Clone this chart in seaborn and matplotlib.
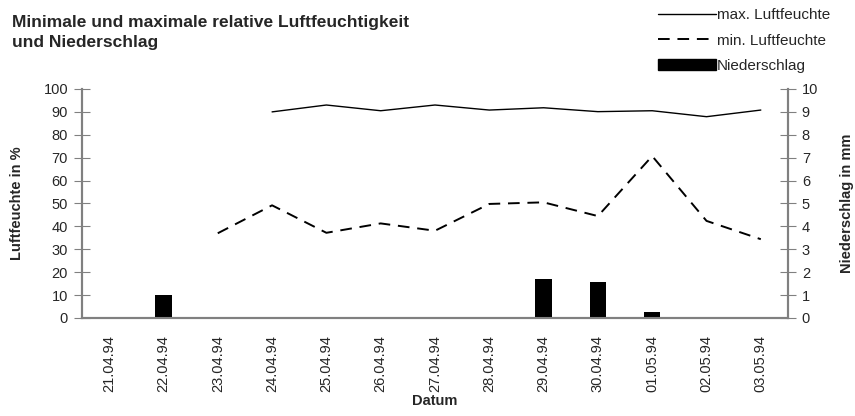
import matplotlib
matplotlib.use("Agg")
import matplotlib.pyplot as plt
import numpy as np
import pandas as pd
import seaborn as sns
from matplotlib.lines import Line2D
from matplotlib.patches import Patch

DATES = ["21.04.94", "22.04.94", "23.04.94", "24.04.94", "25.04.94", "26.04.94", "27.04.94",
         "28.04.94", "29.04.94", "30.04.94", "01.05.94", "02.05.94", "03.05.94"]
MAX_HUM = [np.nan, np.nan, np.nan, 90, 93, 90.5, 93, 90.8, 91.8, 90.1, 90.5, 87.9, 90.8]
MIN_HUM = [np.nan, np.nan, 37, 49.2, 37.2, 41.3, 38.1, 49.8, 50.5, 44.5, 70.7, 42.4, 34.4]
PRECIP = [0, 1.0, 0, 0, 0, 0, 0, 0, 1.7, 1.55, 0.26, 0, 0]

sns.set_style("white")
plt.rcParams["font.family"] = ["Liberation Sans", "DejaVu Sans"]
AXIS_GREY = "#808080"

df = pd.DataFrame({"pos": np.arange(len(DATES)), "datum": DATES,
                   "max": MAX_HUM, "min": MIN_HUM, "precip": PRECIP})

fig = plt.figure(figsize=(8.55, 4.16), dpi=100)
ax = fig.add_axes([0.0959, 0.2356, 0.8257, 0.5505])
ax2 = ax.twinx()

sns.barplot(data=df, x="pos", y="precip", ax=ax2, color="black", width=0.3,
            linewidth=0, native_scale=True, saturation=1)
sns.lineplot(data=df, x="pos", y="max", ax=ax, color="black", lw=1.0)
sns.lineplot(data=df, x="pos", y="min", ax=ax, color="black", lw=1.4,
             linestyle=(0, (6, 4)))

ax.set_xlim(-0.5, len(DATES) - 0.5)
ax.set_ylim(0, 100)
ax2.set_ylim(0, 10)
ax.set_yticks(np.arange(0, 101, 10))
ax2.set_yticks(np.arange(0, 11, 1))

ax.set_xticks(np.arange(-0.5, len(DATES)), labels=[""] * (len(DATES) + 1))
ax.set_xticks(np.arange(len(DATES)), labels=DATES, minor=True)
ax.tick_params(axis="x", which="major", direction="inout", length=12, color=AXIS_GREY, width=1)
ax.tick_params(axis="x", which="minor", length=0, labelsize=10.5, rotation=90, pad=12)
ax.tick_params(axis="y", direction="inout", length=12, color=AXIS_GREY, labelsize=10.5, pad=4)
ax2.tick_params(axis="y", direction="inout", length=12, color=AXIS_GREY, labelsize=10.5, pad=4)

for a in (ax, ax2):
    a.spines["top"].set_visible(False)
    for s in ("left", "right", "bottom"):
        a.spines[s].set_color(AXIS_GREY)
        a.spines[s].set_linewidth(1.5)
    a.grid(False)

ax.set_xlabel("Datum", fontsize=10.5, fontweight="bold", labelpad=2)
ax.set_ylabel("Luftfeuchte in %", fontsize=10.5, fontweight="bold", labelpad=14)
ax2.set_ylabel("Niederschlag in mm", fontsize=10.5, fontweight="bold", labelpad=16)

fig.text(0.014, 0.965, "Minimale und maximale relative Luftfeuchtigkeit\nund Niederschlag",
         fontsize=12.5, fontweight="bold", va="top", ha="left", linespacing=1.45)

handles = [Line2D([], [], color="black", lw=1.0),
           Line2D([], [], color="black", lw=1.4, linestyle=(0, (6, 4))),
           Patch(facecolor="black", edgecolor="black")]
labels = ["max. Luftfeuchte", "min. Luftfeuchte", "Niederschlag"]
fig.legend(handles, labels, loc="upper left", bbox_to_anchor=(0.762, 0.995), frameon=False,
           fontsize=11, handlelength=3.8, handletextpad=0.1, labelspacing=0.75,
           borderaxespad=0)

fig.savefig("out.png", dpi=100)
